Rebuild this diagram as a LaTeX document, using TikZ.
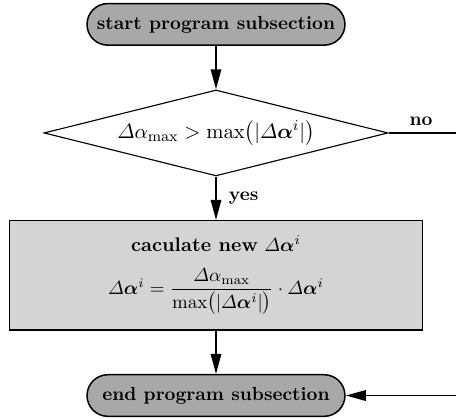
\documentclass[tikz,border=0pt]{standalone}
\usepackage{amsmath}
\usepackage{bm}
\usetikzlibrary{shapes,positioning,arrows.meta,calc}

\begin{document}
\begin{tikzpicture}[node distance=23pt,
      terminal/.style={draw, line width=0.8pt, fill=black!34, rectangle, rounded corners=11pt,
        minimum width=136.5pt, minimum height=22pt, inner sep=0pt, font=\bfseries},
      decision/.style={draw, line width=0.6pt, diamond, aspect=4,
        minimum width=182pt, minimum height=45.5pt, inner sep=0pt, font=\fontsize{10.8}{13}\selectfont},
      process/.style={draw, line width=0.8pt, fill=black!17, rectangle,
        minimum width=218.5pt, minimum height=57.7pt, align=center, font=\fontsize{10.4}{12.5}\selectfont},
      flow/.style={line width=1pt, -{Triangle[length=10.6pt,width=5.5pt]}}]
    \useasboundingbox (0,0) rectangle (241.3pt,-221.7pt);
    \node (start) [terminal] at (114.3pt,-12.9pt) {start program subsection};
    \node (check) [decision, below=of start]
      {$\varDelta\alpha_{\max} > \max\bigl(|\varDelta\bm{\alpha}^{i}|\bigr)$};
    \node (update) [process, below=of check] {\textbf{caculate new} $\varDelta\bm{\alpha}^{i}$\\[8pt]
      $\varDelta\bm{\alpha}^{i} = \dfrac{\varDelta\alpha_{\max}}{\max\bigl(|\varDelta\bm{\alpha}^{i}|\bigr)}\cdot\varDelta\bm{\alpha}^{i}$};
    \node (stop) [terminal, below=of update] {end program subsection};
    \coordinate (nobend) at ($(check.east)+(43pt,0)$);
    \draw[flow] (start) -- (check);
    \draw[flow] (check) -- node[right, xshift=3pt] {\textbf{yes}} (update);
    \draw[flow] (update) -- (stop);
    \draw[flow] (check.east) -- node[above, pos=0.4] {\textbf{no}} (nobend) |- (stop.east);
\end{tikzpicture}
\end{document}
